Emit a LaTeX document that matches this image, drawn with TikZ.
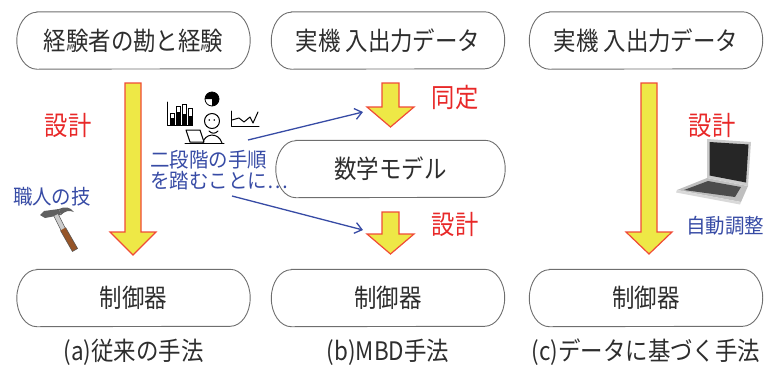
\documentclass[tikz,border=0pt]{standalone}
\usepackage{fontspec}
\newfontfamily\jpfont[FakeStretch=0.88]{Noto Sans CJK JP}
\newfontfamily\jpwide[FakeStretch=0.95]{Noto Sans CJK JP}
\usetikzlibrary{arrows.meta}

\definecolor{boxgray}{RGB}{110,110,110}
\definecolor{textgray}{RGB}{45,45,45}
\definecolor{labelred}{RGB}{232,40,40}
\definecolor{labelblue}{RGB}{55,75,165}
\definecolor{arrowyellow}{RGB}{238,232,70}
\definecolor{arrowred}{RGB}{240,75,55}
\definecolor{handlebrown}{RGB}{150,85,40}

% vertical block arrow: centre x, top y, tip y, head length, shaft half width, head half width
\newcommand\blockarrow[6]{%
  \draw[yarrow] ({#1-#5},#2) -- ({#1+#5},#2) -- ({#1+#5},{#3-#4}) -- ({#1+#6},{#3-#4})
    -- (#1,#3) -- ({#1-#6},{#3-#4}) -- ({#1-#5},{#3-#4}) -- cycle;}

\begin{document}
\begin{tikzpicture}[x=1pt,y=-1pt,
  stadium/.style={minimum width=233pt, minimum height=57pt, text=textgray, inner sep=0pt,
    font=\jpfont\fontsize{25.5}{28}\selectfont},
  boxline/.style={draw=boxgray, line width=0.9pt},
  caption/.style={text=textgray, inner sep=0pt, font=\jpfont\fontsize{25.5}{28}\selectfont},
  redlabel/.style={text=labelred, inner sep=0pt, font=\jpfont\fontsize{26.5}{30}\selectfont},
  bluelabel/.style={text=labelblue, inner sep=0pt, font=\jpwide\fontsize{20.5}{21}\selectfont},
  yarrow/.style={fill=arrowyellow, draw=arrowred, line width=1.2pt, line join=miter},
  bluearrow/.style={draw=labelblue, line width=1.3pt, -{Straight Barb[length=7pt,width=11pt]}},
  icon/.style={line width=1pt, line join=round, line cap=round}]

\path[use as bounding box] (0,0) rectangle (766,365);

% ---- column (a): conventional method
\node[stadium] (a1) at (133.5,40.5) {経験者の勘と経験};
\node[stadium] (a2) at (133.5,298) {制御器};
\node[caption] (ac) at (133.5,352) {(a)従来の手法};
\blockarrow{133}{83}{255}{23}{8}{23}
\node[redlabel] (ad) at (68,125) {設計};
\node[bluelabel] (as) at (52,197) {職人の技};

% hammer
\fill[gray!75!black] (40,215) -- (44,211) -- (59,209) -- (61,215) -- (45,218) -- cycle;
\fill[gray!75!black] (59,209) .. controls (65,206) and (70,207) .. (74,212)
  .. controls (69,210) and (65,211) .. (61,215) -- cycle;
\draw[line width=5pt, gray!40] (56,215) -- (63,229);
\draw[line width=0.5pt, gray!60!black] (53.8,216) -- (60.8,230) (58.2,214) -- (65.2,228);
\draw[line width=6pt, handlebrown] (63,229) -- (75,250);
\draw[line width=0.5pt, black!70] (60.4,230.5) -- (72.4,251.5) -- (77.6,248.5) -- (65.6,227.5);

% ---- column (b): model-based design
\node[stadium] (b1) at (388,40.5) {実機\ 入出力データ};
\node[stadium, minimum width=229pt] (b2) at (390.5,169) {数学モデル};
\node[stadium] (b3) at (388,298) {制御器};
\node[caption] (bc) at (388,352) {(b)MBD手法};
\blockarrow{390.5}{83}{127}{20}{8.5}{23.5}
\blockarrow{390.5}{212}{254}{20}{8.5}{23.5}
\node[redlabel] (bi) at (455,97) {同定};
\node[redlabel] (bd) at (455,224) {設計};

% person working at a laptop, with charts
\draw[icon] (167,102) -- (167,125) -- (192,125);
\foreach \bx/\btop/\bmid in {170/113/118, 176/106/112, 182/104/114, 188/108/116}{
  \fill (\bx,\bmid) rectangle (\bx+4,125);
  \draw[line width=0.8pt] (\bx,\btop) rectangle (\bx+4,125);
}
\draw[line width=0.8pt, fill=white] (212,99) circle (7);
\fill (212,99) -- ++(180:7) arc[start angle=180, end angle=450, radius=7] -- cycle;
\draw[icon] (231,111) -- (231,126) -- (259,126);
\draw[icon] (232,120) -- (239,118) -- (244,122) -- (250,117) -- (253,123) -- (258,112);
\draw[icon] (203,143) .. controls (204,134) and (218,131) .. (222,143);
\draw[icon, fill=white] (212,121) circle (7.5);
\fill (209.3,120) circle (0.9) (214.3,120) circle (0.9);
\draw[icon] (209,131) .. controls (212,134) and (215,134) .. (218,131);
\draw[icon, fill=white] (186,130) -- (200,130) -- (204,142) -- (190,142) -- cycle;
\draw[icon] (185,143) -- (224,143);

\node[bluelabel, anchor=west] (bt) at (150,160) {二段階の手順};
\node[bluelabel, anchor=west] (bu) at (150,181) {を踏むことに…};
\coordinate (bt1) at (248,140);
\coordinate (bt2) at (232,196);
\coordinate (bh1) at (363,112);
\coordinate (bh2) at (363,230);
\draw[bluearrow] (bt1) -- (bh1);
\draw[bluearrow] (bt2) -- (bh2);

% ---- column (c): data-driven method
\node[stadium] (c1) at (646,40.5) {実機\ 入出力データ};
\node[stadium] (c2) at (646,298) {制御器};
\node[caption] (cc) at (646,352) {(c)データに基づく手法};
\blockarrow{649}{83}{254}{22}{8}{23}
\node[redlabel] (cd) at (712,125) {設計};
\node[bluelabel] (ca) at (725,226) {自動調整};

% laptop
\fill[gray!50] (677,190) -- (707,178) -- (748,186) -- (741,202) -- cycle;
\fill[black!70] (684,190) -- (708,181) -- (741,187) -- (735,197) -- cycle;
\fill[gray!30] (677,190) -- (741,202) -- (740,204.5) -- (676,192.5) -- cycle;
\fill[gray!40] (707,139) -- (751,142) -- (748,186) -- (707,178) -- cycle;
\fill[black!85] (709.5,142) -- (748.5,144.5) -- (746,182.5) -- (709.5,175.5) -- cycle;

% stadium outlines with elliptical ends
\foreach \n in {a1,a2,b1,b2,b3,c1,c2}{
  \draw[boxline] ([xshift=20pt]\n.north west) -- ([xshift=-20pt]\n.north east)
    arc[start angle=270, end angle=450, x radius=20, y radius=28.5]
    -- ([xshift=20pt]\n.south west)
    arc[start angle=90, end angle=270, x radius=20, y radius=28.5] -- cycle;
}
\end{tikzpicture}
\end{document}
